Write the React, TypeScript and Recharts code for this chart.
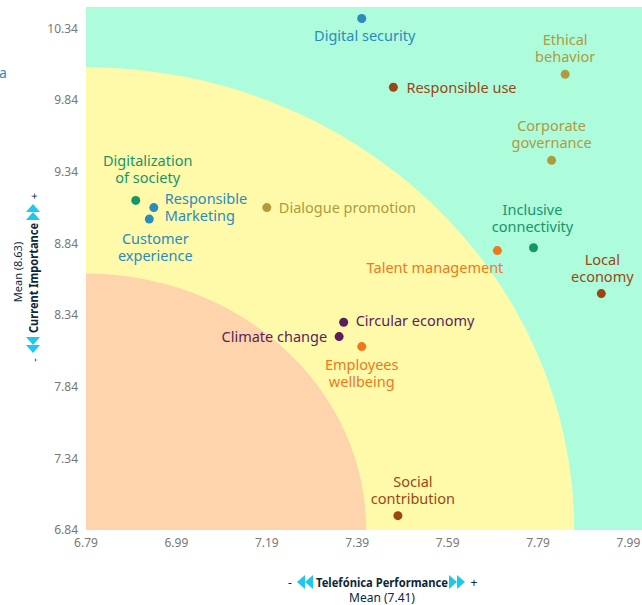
import { ScatterChart, Scatter, XAxis, YAxis, ReferenceArea } from 'recharts';

const topics = [
  'Digital security',
  'Responsible use',
  'Ethical behavior',
  'Corporate governance',
  'Inclusive connectivity',
  'Talent management',
  'Local economy',
  'Digitalization of society',
  'Responsible Marketing',
  'Customer experience',
  'Dialogue promotion',
  'Circular economy',
  'Climate change',
  'Employees wellbeing',
  'Social contribution',
];
const performance = [7.4, 7.47, 7.85, 7.82, 7.78, 7.7, 7.93, 6.9, 6.94, 6.93, 7.19, 7.36, 7.35, 7.4, 7.48];
const importance = [10.41, 9.93, 10.02, 9.42, 8.81, 8.79, 8.49, 9.14, 9.09, 9.01, 9.09, 8.29, 8.19, 8.12, 6.94];

const xTicks = [6.79, 6.99, 7.19, 7.39, 7.59, 7.79, 7.99];
const yTicks = [6.84, 7.34, 7.84, 8.34, 8.84, 9.34, 9.84, 10.34];
const meanPerformance = 7.41;
const meanImportance = 8.63;
const outerPerformance = 7.87;
const outerImportance = 10.07;

const FONT = '"Noto Sans", sans-serif';
const BLUE = '#2a8cbb';
const BROWN = '#9a4716';
const GOLD = '#b09a3e';
const GREEN = '#16956a';
const ORANGE = '#f0781c';
const PURPLE = '#5b1e5c';

// label placement per topic (offsets from dot)
const labelStyle: Record<string, { color: string; lines: string[]; anchor: 'start' | 'middle' | 'end'; dx: number; dy: number }> = {
  'Digital security': { color: BLUE, lines: ['Digital security'], anchor: 'middle', dx: 3, dy: 18 },
  'Responsible use': { color: BROWN, lines: ['Responsible use'], anchor: 'start', dx: 13, dy: 1 },
  'Ethical behavior': { color: GOLD, lines: ['Ethical', 'behavior'], anchor: 'middle', dx: 0, dy: -34 },
  'Corporate governance': { color: GOLD, lines: ['Corporate', 'governance'], anchor: 'middle', dx: 0, dy: -34 },
  'Inclusive connectivity': { color: GREEN, lines: ['Inclusive', 'connectivity'], anchor: 'middle', dx: -1, dy: -38 },
  'Talent management': { color: ORANGE, lines: ['Talent management'], anchor: 'end', dx: 6, dy: 17 },
  'Local economy': { color: BROWN, lines: ['Local', 'economy'], anchor: 'middle', dx: 1, dy: -34 },
  'Digitalization of society': { color: GREEN, lines: ['Digitalization', 'of society'], anchor: 'middle', dx: 12, dy: -39 },
  'Responsible Marketing': { color: BLUE, lines: ['Responsible', 'Marketing'], anchor: 'start', dx: 11, dy: -9 },
  'Customer experience': { color: BLUE, lines: ['Customer', 'experience'], anchor: 'middle', dx: 6, dy: 20 },
  'Dialogue promotion': { color: GOLD, lines: ['Dialogue promotion'], anchor: 'start', dx: 12, dy: 0 },
  'Circular economy': { color: PURPLE, lines: ['Circular economy'], anchor: 'start', dx: 12, dy: -1 },
  'Climate change': { color: PURPLE, lines: ['Climate change'], anchor: 'end', dx: -12, dy: 0 },
  'Employees wellbeing': { color: ORANGE, lines: ['Employees', 'wellbeing'], anchor: 'middle', dx: 0, dy: 18 },
  'Social contribution': { color: BROWN, lines: ['Social', 'contribution'], anchor: 'middle', dx: 15, dy: -34 },
};

const data = topics.map((name, i) => ({ name, x: performance[i], y: importance[i] }));

function TopicDot(props: any) {
  const { cx, cy, payload } = props;
  const s = labelStyle[payload.name];
  const x = cx + s.dx;
  // first line baseline, central ≈ baseline - 5
  const y0 = cy + s.dy + 5;
  return (
    <g>
      <circle cx={cx} cy={cy} r={4.5} fill={s.color} />
      <text
        x={x}
        y={y0}
        textAnchor={s.anchor}
        fill={s.color}
        fontSize={14.5}
        fontFamily={FONT}
        style={{ lineHeight: '17px' }}
      >
        {s.lines.map((line, i) => (
          <tspan key={i} x={x} dy={i === 0 ? 0 : 17}>
            {line}
          </tspan>
        ))}
      </text>
    </g>
  );
}

function quarterEllipse(fill: string) {
  return (p: any) => {
    const { x, y, width, height } = p;
    return (
      <path
        d={`M${x},${y + height} L${x},${y} A${width},${height} 0 0 1 ${x + width},${y + height} Z`}
        fill={fill}
      />
    );
  };
}

function Arrows({ x, dir }: { x: number; dir: 1 | -1 }) {
  // two stacked triangles, dir 1 points right
  const tri = (bx: number) =>
    dir === 1
      ? `${bx},-7 ${bx + 8},0 ${bx},7`
      : `${bx + 8},-7 ${bx},0 ${bx + 8},7`;
  return (
    <g fill="#1fc6ee">
      <polygon points={tri(x)} />
      <polygon points={tri(x + 8)} />
    </g>
  );
}

export default function App() {
  return (
    <div style={{ position: 'absolute', left: 0, top: 0, width: 642, height: 605, background: '#fff' }}>
      <ScatterChart width={642} height={605} margin={{ top: 7, right: 0, bottom: 0, left: 0 }}>
        <XAxis
          type="number"
          dataKey="x"
          domain={[6.79, 8.02]}
          ticks={xTicks}
          tickFormatter={(v) => v.toFixed(2)}
          tickLine={false}
          axisLine={false}
          height={75}
          tick={{ fontSize: 12, fill: '#777', fontFamily: FONT }}
          allowDataOverflow
        />
        <YAxis
          type="number"
          dataKey="y"
          domain={[6.84, 10.49]}
          ticks={yTicks}
          tickFormatter={(v) => v.toFixed(2)}
          tickLine={false}
          axisLine={false}
          width={86}
          tick={{ fontSize: 12, fill: '#777', fontFamily: FONT }}
          allowDataOverflow
        />
        <ReferenceArea x1={6.79} x2={8.02} y1={6.84} y2={10.49} fill="#adfcdc" fillOpacity={1} stroke="none" />
        <ReferenceArea
          x1={6.79}
          x2={outerPerformance}
          y1={6.84}
          y2={outerImportance}
          shape={quarterEllipse('#fefaaa')}
        />
        <ReferenceArea
          x1={6.79}
          x2={meanPerformance}
          y1={6.84}
          y2={meanImportance}
          shape={quarterEllipse('#fdd4ab')}
        />
        <Scatter data={data} isAnimationActive={false} shape={(p: any) => <TopicDot {...p} />} />
      </ScatterChart>
      <svg
        width={642}
        height={605}
        style={{ position: 'absolute', left: 0, top: 0, pointerEvents: 'none' }}
        fontFamily={FONT}
      >
        <text x={-1} y={72} fill={BLUE} fontSize={14} dominantBaseline="central">a</text>
        {/* x-axis title */}
        <g transform="translate(382,582)">
          <text x={-92} y={0} fontSize={12} fill="#0b2739" dominantBaseline="central" textAnchor="middle">-</text>
          <Arrows x={-85} dir={-1} />
          <text
            x={0}
            y={0}
            fontSize={13}
            fontWeight="bold"
            fill="#0b2739"
            textAnchor="middle"
            dominantBaseline="central"
            textLength={132}
            lengthAdjust="spacingAndGlyphs"
          >
            Telefónica Performance
          </text>
          <Arrows x={67} dir={1} />
          <text x={92} y={0} fontSize={12} fill="#0b2739" dominantBaseline="central" textAnchor="middle">+</text>
        </g>
        <text x={382} y={597} fontSize={12} fill="#0b2739" textAnchor="middle" dominantBaseline="central">
          Mean (7.41)
        </text>
        {/* y-axis title */}
        <g transform="translate(33,278) rotate(-90)">
          <text x={-82} y={0} fontSize={11} fill="#0b2739" dominantBaseline="central" textAnchor="middle">-</text>
          <Arrows x={-75} dir={-1} />
          <text
            x={0}
            y={0}
            fontSize={12}
            fontWeight="bold"
            fill="#0b2739"
            textAnchor="middle"
            dominantBaseline="central"
            textLength={110}
            lengthAdjust="spacingAndGlyphs"
          >
            Current Importance
          </text>
          <Arrows x={58} dir={1} />
          <text x={82} y={0} fontSize={11} fill="#0b2739" dominantBaseline="central" textAnchor="middle">+</text>
        </g>
        <text
          x={17}
          y={272}
          fontSize={11}
          fill="#0b2739"
          textAnchor="middle"
          dominantBaseline="central"
          transform="rotate(-90,17,272)"
        >
          Mean (8.63)
        </text>
      </svg>
    </div>
  );
}
